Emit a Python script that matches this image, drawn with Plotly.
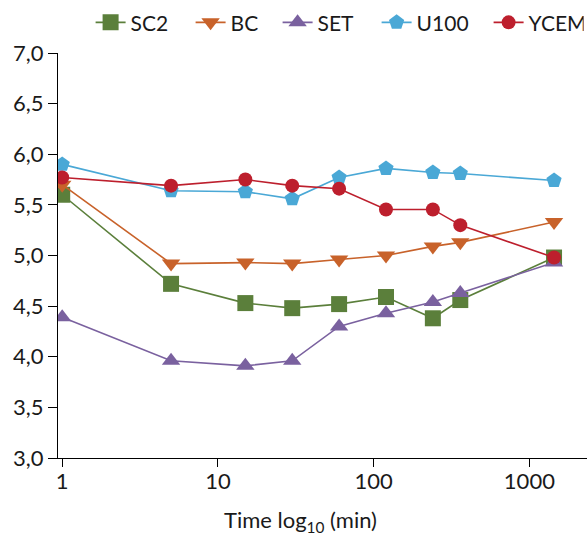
import plotly.graph_objects as go

time_min = [1, 5, 15, 30, 60, 120, 240, 360, 1440]
sc2 = [5.60, 4.72, 4.53, 4.48, 4.52, 4.59, 4.38, 4.56, 4.98]
bc = [5.70, 4.92, 4.93, 4.92, 4.96, 5.00, 5.09, 5.13, 5.33]
set_ = [4.39, 3.96, 3.91, 3.96, 4.30, 4.43, 4.54, 4.63, 4.93]
u100 = [5.90, 5.64, 5.63, 5.56, 5.77, 5.86, 5.82, 5.81, 5.74]
ycem = [5.77, 5.69, 5.75, 5.69, 5.66, 5.455, 5.455, 5.30, 4.98]

series_names = ["SC2", "BC", "SET", "U100", "YCEM"]
series_values = [sc2, bc, set_, u100, ycem]
colors = ["#5b7f3b", "#c8622a", "#7a619f", "#4aa8d6", "#bd1f2d"]
symbols = ["square", "triangle-down", "triangle-up", "pentagon", "circle"]
sizes = [16, 16, 16, 16, 14]
legend_widths = [55, 42, 54, 67, 50]

x_ticks = [1, 10, 100, 1000]
x_ticktext = ["1", "10", "100", "1000"]
y_ticks = [3.0, 3.5, 4.0, 4.5, 5.0, 5.5, 6.0, 6.5, 7.0]

FONT = "Lato"
TXT = "#1a1a1a"

fig = go.Figure()
for name, vals, col, sym, sz, lw in zip(series_names, series_values, colors,
                                        symbols, sizes, legend_widths):
    fig.add_trace(go.Scatter(
        x=time_min, y=vals, name=name, mode="lines+markers",
        line=dict(color=col, width=1.6),
        marker=dict(symbol=sym, size=sz, color=col, line=dict(width=0)),
        legendwidth=lw,
    ))

fig.update_layout(
    width=587, height=537,
    margin=dict(l=58, r=0, t=53, b=79, pad=0, autoexpand=False),
    paper_bgcolor="white", plot_bgcolor="white",
    separators=", ",
    font=dict(family=FONT, size=22, color=TXT),
    showlegend=True,
    legend=dict(orientation="h", xref="container", yref="container",
                x=90.6 / 587, y=1 - 22.7 / 537, xanchor="left", yanchor="middle",
                font=dict(family=FONT, size=21, color=TXT),
                itemwidth=30, tracegroupgap=0, bgcolor="rgba(0,0,0,0)"),
    xaxis=dict(type="log", range=[-0.027, 3.370],
               tickvals=x_ticks, ticktext=x_ticktext,
               ticks="outside", ticklen=8, tickwidth=1.3, tickcolor="black",
               ticklabelstandoff=-5,
               showline=True, linecolor="black", linewidth=1.3,
               showgrid=False, zeroline=False, automargin=False,
               tickfont=dict(family=FONT, size=22, color=TXT)),
    yaxis=dict(range=[3.0, 7.0], tickvals=y_ticks, tickformat=".1f",
               ticks="outside", ticklen=9, tickwidth=1.3, tickcolor="black",
               showline=True, linecolor="black", linewidth=1.3,
               showgrid=False, zeroline=False, automargin=False,
               tickfont=dict(family=FONT, size=22, color=TXT)),
    annotations=[dict(text="Time log<sub>10</sub> (min)", xref="paper", yref="paper",
                      x=0.458, y=-0.156, xanchor="center", yanchor="middle",
                      showarrow=False, font=dict(family=FONT, size=22, color=TXT))],
)

fig.write_html(
    "out.html",
    config={"displayModeBar": False},
    post_script="document.body.style.margin='0';document.body.style.overflow='hidden';",
)
